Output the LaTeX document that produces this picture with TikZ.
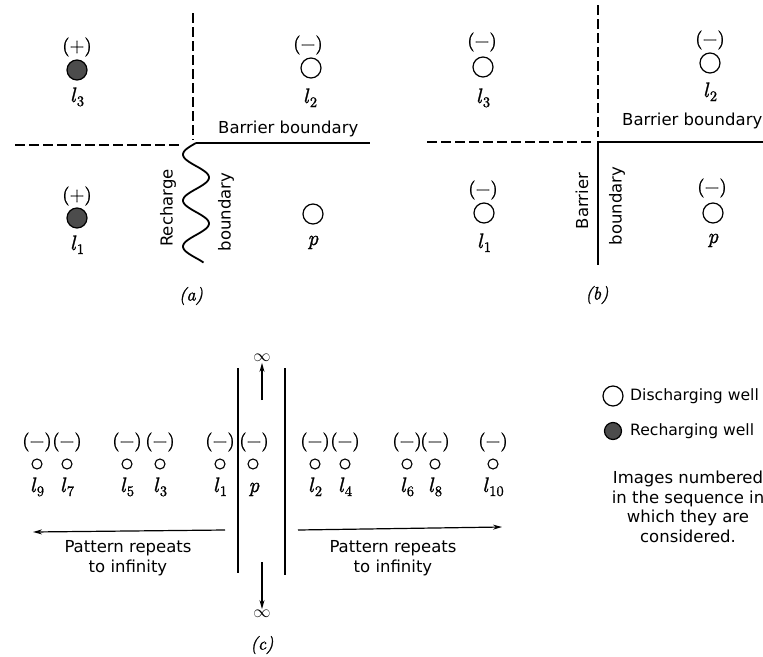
\documentclass[tikz,border=0pt]{standalone}
\usepackage{fontspec}
\setsansfont{DejaVu Sans}
\newfontfamily\wellfont{lmroman10-regular.otf}[ItalicFont=lmroman10-italic.otf, FakeBold=1.2]
\usetikzlibrary{arrows.meta}

% image-well label: italic l with a lowered index
\newcommand\wl[1]{\textit{l}\kern0.5pt\raisebox{-4pt}{\fontsize{14.5}{15}\selectfont #1}}
\newcommand\mns{(\symbol{"2212})}

\tikzset{
  txt/.style={font=\sffamily\fontsize{16.5}{19.5}\selectfont, inner sep=0pt},
  keytxt/.style={font=\sffamily\fontsize{15.6}{19.5}\selectfont, inner sep=0pt, anchor=west},
  sgn/.style={font=\wellfont\fontsize{19}{21}\selectfont, inner sep=0pt},
  lbl/.style={font=\wellfont\fontsize{21}{23}\selectfont, inner sep=0pt, anchor=base},
  subcap/.style={font=\wellfont\itshape\fontsize{18}{20}\selectfont, inner sep=0pt},
  bigwell/.style={circle, draw, line width=1.2pt, minimum size=20pt, inner sep=0pt},
  rwell/.style={bigwell, fill=black!70},
  smallwell/.style={circle, draw, line width=1.1pt, minimum size=10pt, inner sep=0pt},
  dashline/.style={line width=1.4pt, dash pattern=on 10pt off 4pt},
  bound/.style={line width=2pt},
  thin arrow/.style={line width=1.2pt, -{Stealth[length=9pt,width=5pt]}}
}

\begin{document}
\begin{tikzpicture}[x=1pt, y=-1pt]
\useasboundingbox (0,0) rectangle (763,656);

% ---------------- (a) barrier + recharge boundary ----------------
\coordinate (a-vtop) at (193,13);
\coordinate (a-vbot) at (193,140);
\coordinate (a-hl)   at (15,145);
\coordinate (a-hr)   at (182,145);
\coordinate (a-o)    at (196,143);
\coordinate (a-end)  at (370,143);
\draw[dashline] (a-vtop) -- (a-vbot);
\draw[dashline] (a-hl) -- (a-hr);
\draw[bound] (a-o) -- (a-end);
\draw[bound, line width=1.8pt] plot[domain=0:2.6, samples=140, smooth]
  ({196-13*sin(360*\x)}, {143+46*\x});

\node[txt, anchor=base west] (a-bb) at (218,133) {Barrier boundary};
\node[txt, rotate=90] (a-rc) at (168,208) {Recharge};
\node[txt, rotate=90] (a-bd) at (226,212) {boundary};

\node[sgn] (a-s3) at (77,47) {(+)};
\node[rwell] (a-w3) at (77,70) {};
\node[lbl] (a-l3) at (77,102) {\wl{3}};

\node[sgn] (a-s2) at (308,45) {\mns};
\node[bigwell] (a-w2) at (311,68) {};
\node[lbl] (a-l2) at (310,103) {\wl{2}};

\node[sgn] (a-s1) at (77,196) {(+)};
\node[rwell] (a-w1) at (77,218) {};
\node[lbl] (a-l1) at (77,250) {\wl{1}};

\node[bigwell] (a-wp) at (313,214) {};
\node[lbl] (a-lp) at (313,245) {\textit{p}};

\node[subcap] (a-cap) at (191,296) {(a)};

% ---------------- (b) two barrier boundaries ----------------
\coordinate (b-vtop) at (598,5);
\coordinate (b-vbot) at (598,137);
\coordinate (b-hl)   at (427,142);
\coordinate (b-hr)   at (593,142);
\coordinate (b-o)    at (598,142);
\coordinate (b-end)  at (763,142);
\coordinate (b-down) at (598,265);
\draw[dashline] (b-vtop) -- (b-vbot);
\draw[dashline] (b-hl) -- (b-hr);
\draw[bound] (b-end) -- (b-o) -- (b-down);

\node[txt, anchor=base west] (b-bb) at (622,125) {Barrier boundary};
\node[txt, rotate=90] (b-br) at (582,201) {Barrier};
\node[txt, rotate=90] (b-bd) at (617,206) {boundary};

\node[sgn] (b-s3) at (482,42) {\mns};
\node[bigwell] (b-w3) at (483,67) {};
\node[lbl] (b-l3) at (483,103) {\wl{3}};

\node[sgn] (b-s2) at (710,40) {\mns};
\node[bigwell] (b-w2) at (710,63) {};
\node[lbl] (b-l2) at (710,97) {\wl{2}};

\node[sgn] (b-s1) at (483,190) {\mns};
\node[bigwell] (b-w1) at (484,213) {};
\node[lbl] (b-l1) at (484,248) {\wl{1}};

\node[sgn] (b-sp) at (712,188) {\mns};
\node[bigwell] (b-wp) at (713,213) {};
\node[lbl] (b-lp) at (713,243) {\textit{p}};

\node[subcap] (b-cap) at (597,295) {(b)};

% ---------------- (c) two parallel barriers ----------------
\coordinate (c-l-top) at (238,368);
\coordinate (c-l-bot) at (238,573);
\coordinate (c-r-top) at (285,368);
\coordinate (c-r-bot) at (285,575);
\draw[line width=1.8pt] (c-l-top) -- (c-l-bot);
\draw[line width=1.8pt] (c-r-top) -- (c-r-bot);

\node[font=\fontsize{16}{18}\selectfont, inner sep=1pt] (c-infu) at (262,358) {$\infty$};
\node[font=\fontsize{16}{18}\selectfont, inner sep=1pt] (c-infd) at (262,614) {$\infty$};
\coordinate (c-up0) at (262,400);
\coordinate (c-dn0) at (262,562);
\draw[thin arrow] (c-up0) -- (c-infu.south);
\draw[thin arrow] (c-dn0) -- (c-infd.north);

\foreach \n/\x/\k in {c9/37/9, c7/67/7, c5/127/5, c3/160/3, c1/220/1,
                      c2/315/2, c4/345/4, c6/407/6, c8/435/8, c10/493/10} {
  \node[sgn] (\n-s) at (\x,442) {\mns};
  \node[smallwell] (\n-w) at (\x,464) {};
  \node[lbl] (\n-l) at (\x,492) {\wl{\k}};
}
\node[sgn] (cp-s) at (254,442) {\mns};
\node[smallwell] (cp-w) at (253,464) {};
\node[lbl] (cp-l) at (254,492) {\textit{p}};

\coordinate (c-al0) at (225,530);
\coordinate (c-al1) at (33,532);
\coordinate (c-ar0) at (298,530);
\coordinate (c-ar1) at (502,527);
\draw[thin arrow] (c-al0) -- (c-al1);
\draw[thin arrow] (c-ar0) -- (c-ar1);

\node[txt, align=center] (c-tl) at (128,558) {Pattern repeats\\to infinity};
\node[txt, align=center] (c-tr) at (393,558) {Pattern repeats\\to infinity};

\node[subcap] (c-cap) at (262,645) {(c)};

% ---------------- legend ----------------
\node[bigwell] (k-dw) at (613,396) {};
\node[keytxt] (k-dt) at (630,396) {Discharging well};
\node[bigwell, fill=black!70, minimum size=17pt] (k-rw) at (613,431) {};
\node[keytxt] (k-rt) at (630,431) {Recharging well};
\node[txt, align=center, anchor=north] (k-note) at (688,471)
  {Images numbered\\in the sequence in\\which they are\\considered.};
\end{tikzpicture}
\end{document}
